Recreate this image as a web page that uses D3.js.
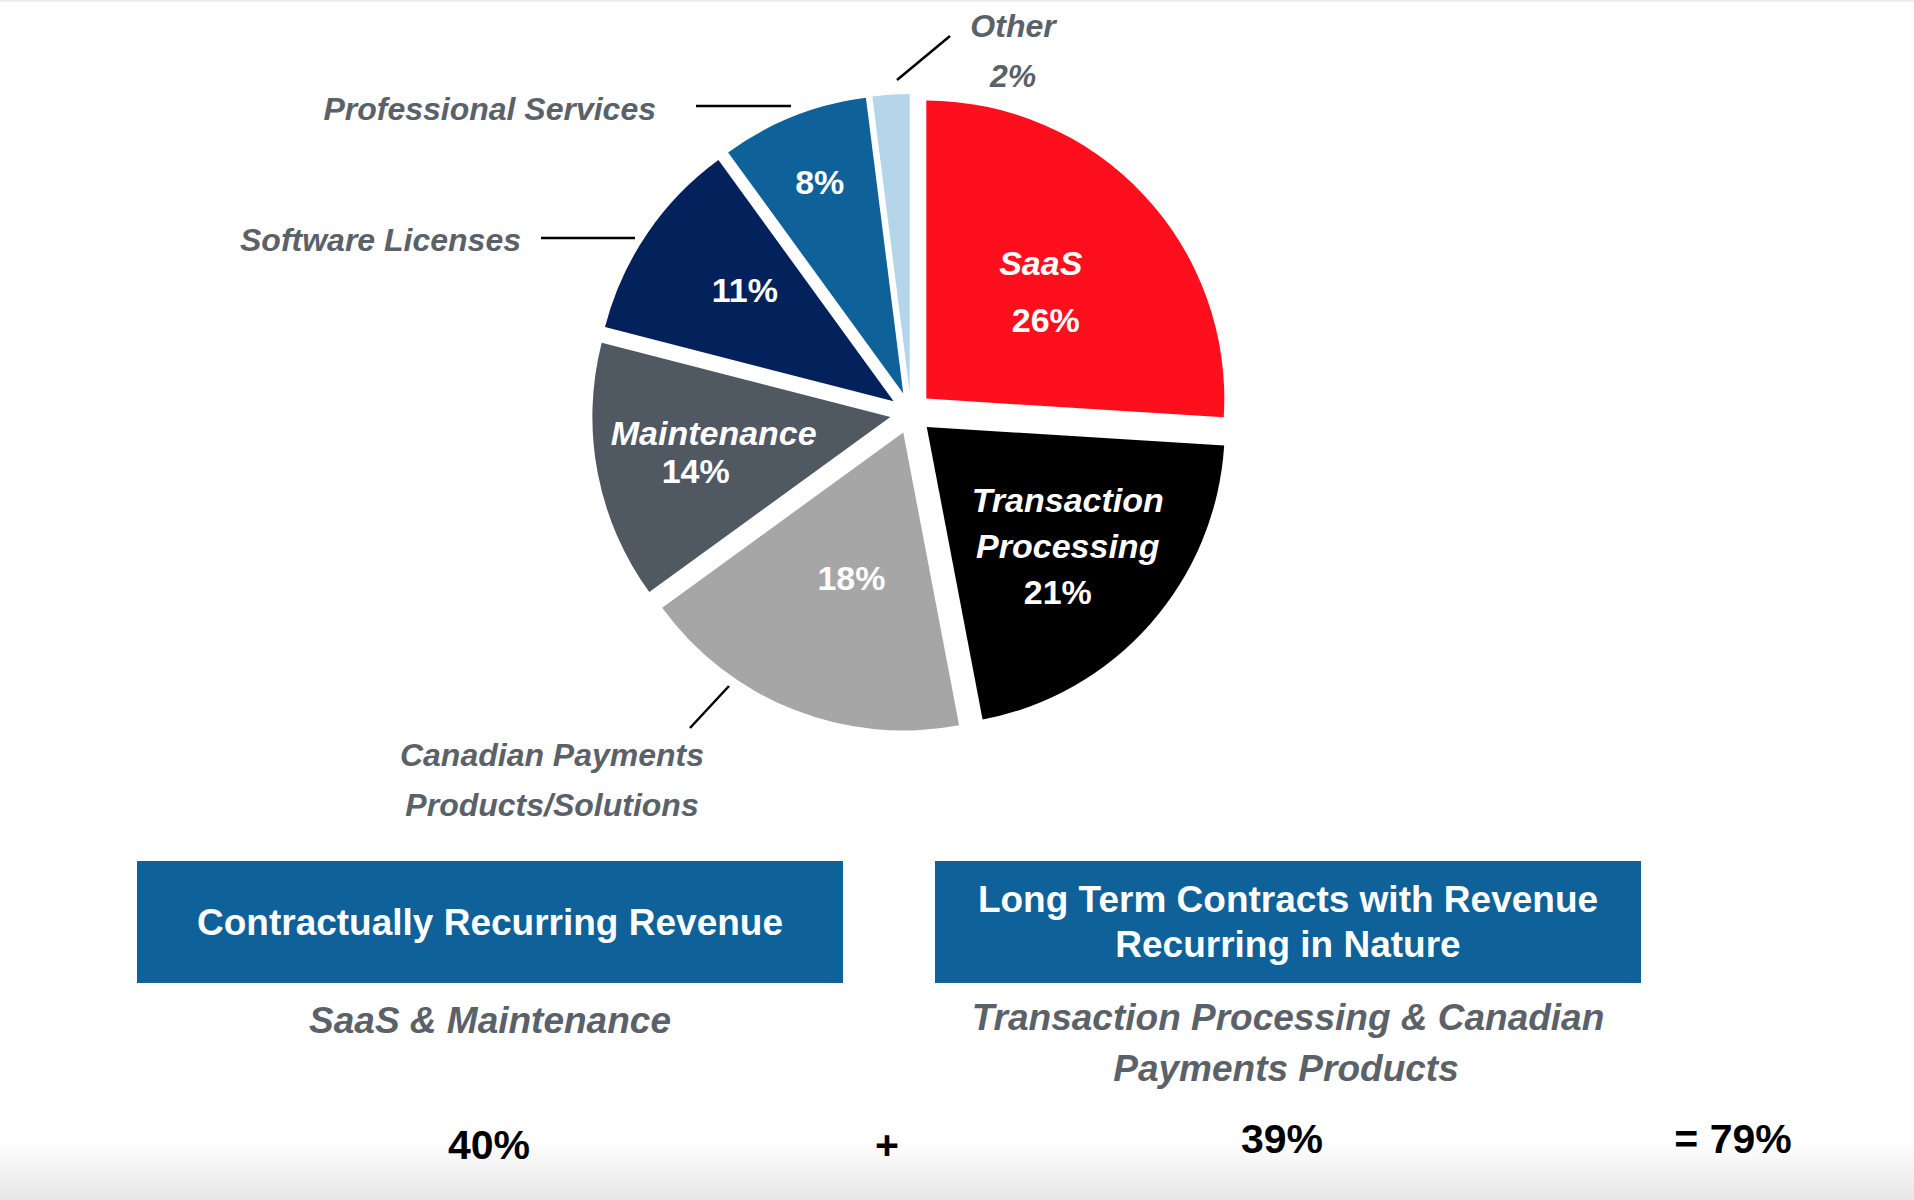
<!DOCTYPE html>
<html><head><meta charset="utf-8">
<script src="https://cdn.jsdelivr.net/npm/d3@7"></script>
<style>
html,body{margin:0;padding:0;background:#fff;}
svg{display:block;font-family:"Liberation Sans",Arial,Helvetica,sans-serif;}
</style></head>
<body>
<svg id="chart" width="1914" height="1200"></svg>
<script>
// ---- data ----
const categories = ["SaaS","Transaction Processing","Canadian Payments Products/Solutions","Maintenance","Software Licenses","Professional Services","Other"];
const values = [26,21,18,14,11,8,2];
const colors = ["#fe0f1e","#000000","#a6a6a6","#505862","#03215b","#0e6199","#b5d5ea"];
const insideNames = [["SaaS"],["Transaction","Processing"],[],["Maintenance"],[],[],[]];
const boxTitles = [["Contractually Recurring Revenue"],["Long Term Contracts with Revenue","Recurring in Nature"]];
const boxSubtitles = [["SaaS & Maintenance"],["Transaction Processing & Canadian","Payments Products"]];
const groupTotals = ["40%","39%"];
const grandTotal = "= 79%";

// ---- layout ----
const W = 1914, H = 1200;
const cx = 911, cy = 413, R = 298, explode = 21;
const labelRadius = [157, 180, 157, 189, 186, 227, 0];
const labelNudge = [[0,0],[6,0],[6,0],[0,0],[5,-7],[0,0],[0,0]];
const gray = "#5b6169";

const svg = d3.select("#chart");
const defs = svg.append("defs");
const grad = defs.append("linearGradient").attr("id","bot").attr("x1",0).attr("x2",0).attr("y1",0).attr("y2",1);
grad.append("stop").attr("offset","0%").attr("stop-color","#ffffff");
grad.append("stop").attr("offset","100%").attr("stop-color","#e6e6e6");
svg.append("rect").attr("x",0).attr("y",1140).attr("width",W).attr("height",60).attr("fill","url(#bot)");
svg.append("rect").attr("x",0).attr("y",0).attr("width",W).attr("height",2).attr("fill","#ececec");

const pie = d3.pie().sort(null).value(d => d).startAngle(0).endAngle(2*Math.PI);
const arcs = pie(values);
const arc = d3.arc().innerRadius(0).outerRadius(R);

const g = svg.append("g").attr("transform", `translate(${cx},${cy})`);
const mid = d => (d.startAngle + d.endAngle) / 2;
const polar = (a, r) => [Math.sin(a) * r, -Math.cos(a) * r];

g.selectAll("path.slice").data(arcs).join("path")
  .attr("class","slice")
  .attr("d", arc)
  .attr("fill", (d,i) => colors[i])
  .attr("transform", d => { const [x,y] = polar(mid(d), explode); return `translate(${x},${y})`; });

// inside labels
const fsIn = 34;
arcs.forEach((d,i) => {
  if (i === 6) return;
  let [x,y] = polar(mid(d), labelRadius[i] + explode);
  x += labelNudge[i][0]; y += labelNudge[i][1];
  const lines = insideNames[i].map(t => ({t, italic:true})).concat([{t: values[i] + "%", italic:false}]);
  let lh = 40;
  if (i === 0) lh = 57;
  if (i === 3) lh = 38;
  if (i === 1) lh = 46;
  const n = lines.length;
  lines.forEach((ln, k) => {
    let dx = 0;
    if (i === 0 && !ln.italic) dx = 5;
    if (i === 1 && !ln.italic) dx = -10;
    if (i === 3 && !ln.italic) dx = -9;
    if (i === 3 && ln.italic) dx = 9;
    g.append("text")
      .attr("x", x + dx)
      .attr("y", y + (k - (n - 1) / 2) * lh)
      .attr("dy","0.35em")
      .attr("text-anchor","middle")
      .attr("fill","#fff")
      .attr("font-weight","bold")
      .attr("font-style", ln.italic ? "italic" : "normal")
      .attr("font-size", fsIn)
      .text(ln.t);
  });
});

// outside labels + leader lines
const lbl = (x, y, t, anchor) => svg.append("text").attr("x",x).attr("y",y).attr("dy","0.35em")
  .attr("text-anchor",anchor).attr("fill",gray).attr("font-weight","bold").attr("font-style","italic")
  .attr("font-size",32).text(t);
const line = (x1,y1,x2,y2) => svg.append("line").attr("x1",x1).attr("y1",y1).attr("x2",x2).attr("y2",y2)
  .attr("stroke","#000").attr("stroke-width",2.5);

lbl(1013, 26, "Other", "middle");
lbl(1013, 76, values[6] + "%", "middle");
line(897, 80, 950, 36);

lbl(656, 109, categories[5], "end");
line(696, 106, 791, 106);

lbl(521, 240, categories[4], "end");
line(541, 238, 635, 238);

lbl(552, 755, "Canadian Payments", "middle");
lbl(552, 805, "Products/Solutions", "middle");
line(690, 728, 729, 686);

// boxes
const boxX = [137, 935], boxW = 706, boxY = 861, boxH = 122;
boxX.forEach((bx, i) => {
  svg.append("rect").attr("x",bx).attr("y",boxY).attr("width",boxW).attr("height",boxH).attr("fill","#0e6199");
  const lines = boxTitles[i];
  lines.forEach((t,k) => {
    svg.append("text").attr("x", bx + boxW/2).attr("y", boxY + boxH/2 + (k - (lines.length-1)/2) * 45)
      .attr("dy","0.35em").attr("text-anchor","middle").attr("fill","#fff")
      .attr("font-weight","bold").attr("font-size",37).text(t);
  });
  const subs = boxSubtitles[i];
  subs.forEach((t,k) => {
    svg.append("text").attr("x", bx + boxW/2 - (i===1 && k===1 ? 2 : 0))
      .attr("y", (i === 0 ? 1020 : 1017) + k * 51)
      .attr("dy","0.35em").attr("text-anchor","middle").attr("fill",gray)
      .attr("font-weight","bold").attr("font-style","italic").attr("font-size",37).text(t);
  });
});

// totals
const tot = (x,y,t) => svg.append("text").attr("x",x).attr("y",y).attr("dy","0.35em").attr("text-anchor","middle")
  .attr("fill","#000").attr("font-weight","bold").attr("font-size",41).text(t);
tot(489, 1145, groupTotals[0]);
tot(887, 1145, "+");
tot(1282, 1139, groupTotals[1]);
tot(1733, 1139, grandTotal);
</script>
</body></html>
